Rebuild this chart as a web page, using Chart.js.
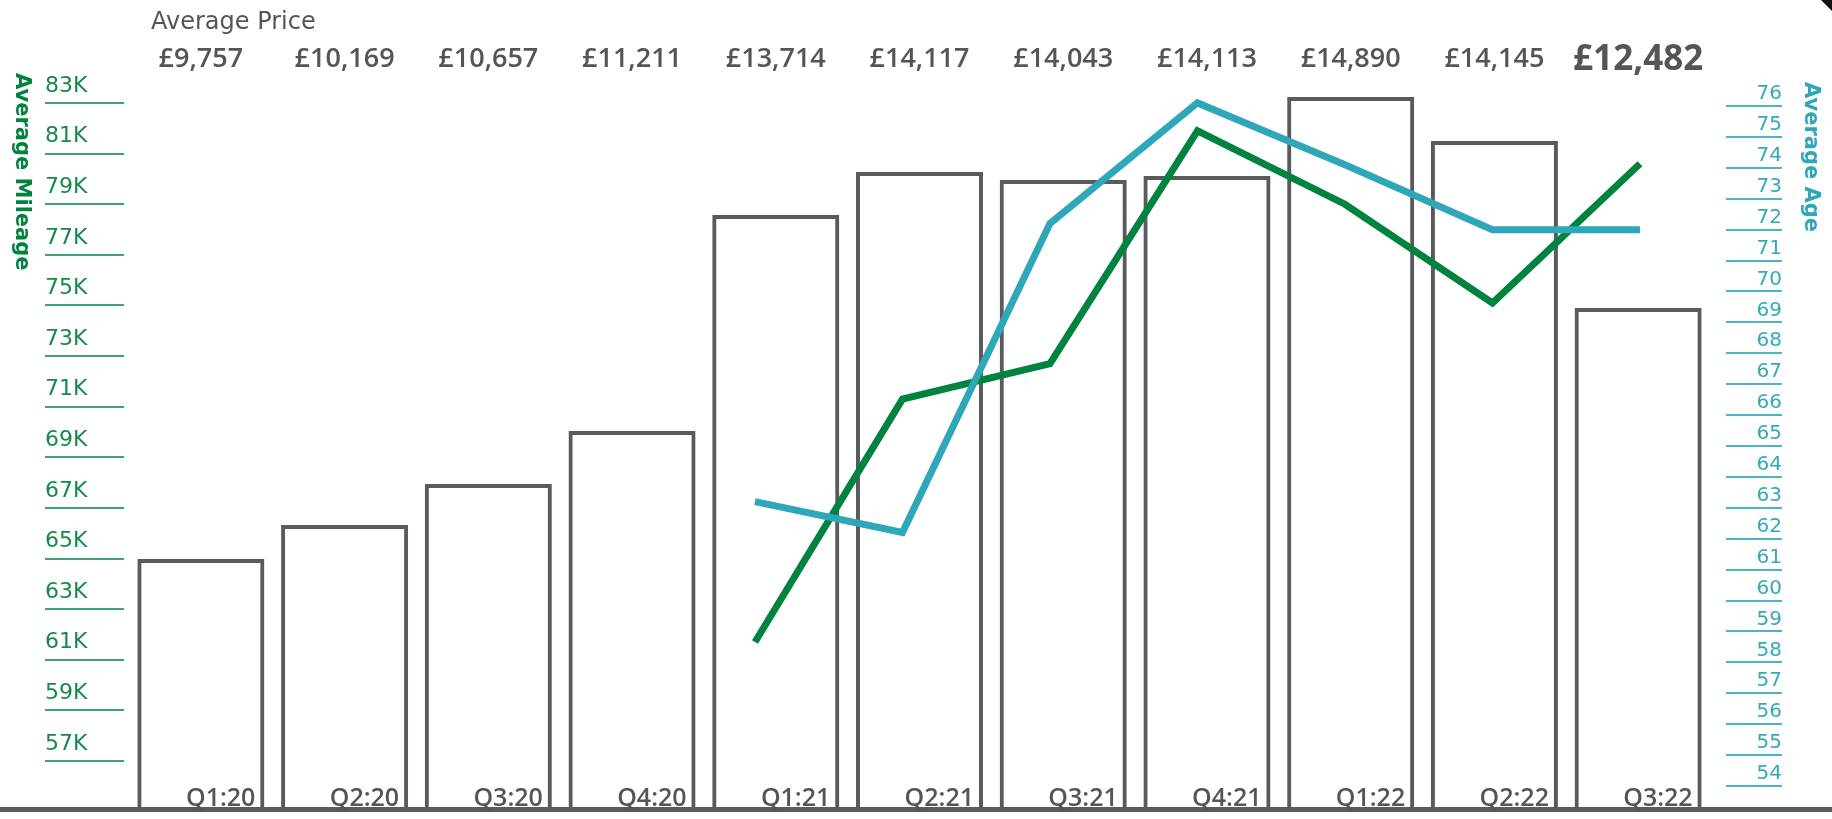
<!DOCTYPE html>
<html>
<head>
<meta charset="utf-8">
<title>Average Price, Mileage and Age</title>
<script src="https://cdn.jsdelivr.net/npm/chart.js@4/dist/chart.umd.min.js"></script>
<style>
html, body { margin: 0; padding: 0; background: #fff; }
</style>
</head>
<body>
<canvas id="myChart" width="1832" height="819"></canvas>
<script>
quarters = ['Q1:20', 'Q2:20', 'Q3:20', 'Q4:20', 'Q1:21', 'Q2:21', 'Q3:21', 'Q4:21', 'Q1:22', 'Q2:22', 'Q3:22']
prices = ['£9,757', '£10,169', '£10,657', '£11,211', '£13,714', '£14,117', '£14,043', '£14,113', '£14,890', '£14,145', '£12,482']

// bar tops as drawn (they don't follow the printed prices exactly), read against a £ scale
barLevels = [9790, 10183, 10657, 11270, 13767, 14264, 14172, 14218, 15131, 14623, 12692]

mileage = [null, null, null, null, 61700, 71300, 72700, 81900, 79000, 75100, 80600]
age = [null, null, null, null, 63.2, 62.2, 72.2, 76.1, 74.1, 72.0, 72.0]

mileageTicks = [57000, 59000, 61000, 63000, 65000, 67000, 69000, 71000, 73000, 75000, 77000, 79000, 81000, 83000]
ageTicks = [54, 55, 56, 57, 58, 59, 60, 61, 62, 63, 64, 65, 66, 67, 68, 69, 70, 71, 72, 73, 74, 75, 76]

var GREY = '#5a5a5a'
var TEXT = '#555555'
var GREEN = '#00833f'
var GREEN_TXT = '#17894b'
var CYAN = '#2ea7b9'
var CYAN_TXT = '#35a9ba'

function toPoints(arr) {
	var out = []
	arr.forEach(function (v, i) {
		if (v !== null) out.push({ x: i, y: v })
	})
	return out
}

var extras = {
	id: 'extras',
	beforeDatasetsDraw: function (chart) {
		var ctx = chart.ctx
		var base = chart.scales.yBar.getPixelForValue(chart.scales.yBar.min)
		ctx.save()
		ctx.strokeStyle = GREY
		ctx.lineWidth = 5
		ctx.beginPath()
		ctx.moveTo(0, base + 0.5)
		ctx.lineTo(chart.width, base + 0.5)
		ctx.stroke()
		ctx.restore()
	},
	afterDraw: function (chart) {
		var ctx = chart.ctx
		var x = chart.scales.x
		var yM = chart.scales.yMileage
		var yA = chart.scales.yAge
		ctx.save()

		// tick underlines
		ctx.lineWidth = 2
		ctx.strokeStyle = 'rgba(0,131,63,0.75)'
		yM.ticks.forEach(function (t) {
			var p = Math.round(yM.getPixelForValue(t.value))
			ctx.beginPath()
			ctx.moveTo(yM.left, p)
			ctx.lineTo(yM.right - 5, p)
			ctx.stroke()
		})
		ctx.strokeStyle = 'rgba(46,167,185,0.85)'
		yA.ticks.forEach(function (t) {
			var p = Math.round(yA.getPixelForValue(t.value))
			ctx.beginPath()
			ctx.moveTo(yA.left + 16, p)
			ctx.lineTo(yA.right, p)
			ctx.stroke()
		})

		// axis titles, both read top to bottom
		ctx.textAlign = 'left'
		ctx.textBaseline = 'middle'
		ctx.font = 'bold 21px "DejaVu Sans"'
		ctx.fillStyle = GREEN
		ctx.save()
		ctx.translate(21, 73)
		ctx.rotate(Math.PI / 2)
		ctx.fillText('Average Mileage', 0, 0)
		ctx.restore()
		ctx.fillStyle = CYAN
		ctx.save()
		ctx.translate(1810, 82)
		ctx.rotate(Math.PI / 2)
		ctx.fillText('Average Age', 0, 0)
		ctx.restore()

		// price row
		ctx.fillStyle = TEXT
		ctx.textBaseline = 'alphabetic'
		ctx.textAlign = 'left'
		ctx.font = '24px "DejaVu Sans"'
		ctx.fillText('Average Price', 151, 29)
		ctx.textAlign = 'center'
		prices.forEach(function (p, i) {
			var last = i === prices.length - 1
			ctx.font = last ? 'bold 35px "Open Sans"' : '600 27px "Open Sans"'
			ctx.fillText(p, x.getPixelForValue(i), last ? 70 : 67)
		})

		// quarter labels sit inside each bar, bottom right
		var bars = chart.getDatasetMeta(0).data
		ctx.font = '600 25px "Open Sans"'
		ctx.fillStyle = '#555555'
		ctx.textAlign = 'right'
		quarters.forEach(function (q, i) {
			var b = bars[i]
			ctx.fillText(q, b.x + b.width / 2 - 9, chart.chartArea.bottom - 3)
		})

		// small dark corner mark, top right
		ctx.fillStyle = '#111'
		ctx.beginPath()
		ctx.moveTo(chart.width - 11, 0)
		ctx.lineTo(chart.width, 0)
		ctx.lineTo(chart.width, 11)
		ctx.closePath()
		ctx.fill()
		ctx.restore()
	}
}

function load_chart() {
	var ctx = document.getElementById('myChart').getContext('2d')
	Chart.defaults.font.family = '"DejaVu Sans"'
	new Chart(ctx, {
		type: 'bar',
		data: {
			labels: quarters,
			datasets: [{
				label: 'Average Price',
				data: barLevels,
				yAxisID: 'yBar',
				xAxisID: 'x',
				backgroundColor: 'rgba(255,255,255,0)',
				borderColor: GREY,
				borderWidth: 4,
				borderSkipped: 'bottom',
				grouped: false,
				categoryPercentage: 1,
				barPercentage: 0.884,
				order: 3
			}, {
				type: 'line',
				label: 'Average Mileage',
				data: toPoints(mileage),
				xAxisID: 'xLine',
				yAxisID: 'yMileage',
				borderColor: GREEN,
				borderWidth: 7,
				pointRadius: 0,
				tension: 0,
				fill: false,
				borderJoinStyle: 'miter',
				order: 2
			}, {
				type: 'line',
				label: 'Average Age',
				data: toPoints(age),
				xAxisID: 'xLine',
				yAxisID: 'yAge',
				borderColor: CYAN,
				borderWidth: 7,
				pointRadius: 0,
				tension: 0,
				fill: false,
				borderJoinStyle: 'miter',
				order: 1
			}]
		},
		options: {
			responsive: false,
			animation: false,
			layout: { padding: { left: 45, right: 50, top: 95, bottom: 10 } },
			plugins: { legend: { display: false }, tooltip: { enabled: false } },
			scales: {
				x: { display: false, offset: true },
				xLine: { type: 'linear', display: false, offset: false, bounds: 'data', min: -0.244, max: 10.475, grid: { offset: false } },
				yBar: { display: false, min: 6900, max: 15154 },
				yMileage: {
					position: 'left',
					min: 55103,
					max: 83316,
					grid: { display: false },
					border: { display: false },
					afterBuildTicks: function (s) { s.ticks = mileageTicks.map(function (v) { return { value: v } }) },
					afterFit: function (s) { s.width = 84; s.paddingTop = 0; s.paddingBottom = 0 },
					ticks: {
						autoSkip: false,
						crossAlign: 'far',
						padding: 0,
						labelOffset: -17,
						color: GREEN_TXT,
						font: { size: 22 },
						callback: function (v) { return (v / 1000) + 'K' }
					}
				},
				yAge: {
					position: 'right',
					min: 53.256,
					max: 76.356,
					grid: { display: false },
					border: { display: false },
					afterBuildTicks: function (s) { s.ticks = ageTicks.map(function (v) { return { value: v } }) },
					afterFit: function (s) { s.width = 72; s.paddingTop = 0; s.paddingBottom = 0 },
					ticks: {
						autoSkip: false,
						crossAlign: 'far',
						padding: 0,
						labelOffset: -12,
						color: CYAN_TXT,
						font: { size: 20 }
					}
				}
			}
		},
		plugins: [extras]
	})
}

load_chart()
</script>
</body>
</html>
